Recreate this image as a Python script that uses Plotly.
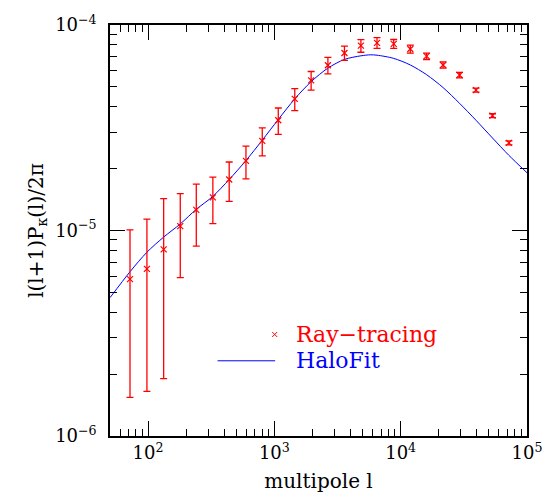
import math
import plotly.graph_objects as go

# Ray-tracing convergence power spectrum with 1-sigma errors
ell = [72, 98, 133, 180, 241, 326, 439, 596, 802, 1074, 1451, 1955,
       2654, 3589, 4844, 6495, 8810, 11920, 16040, 21670, 29230, 39450,
       53300, 71920]
power = [5.8e-6, 6.5e-6, 8.1e-6, 1.05e-5, 1.26e-5, 1.45e-5, 1.77e-5, 2.18e-5,
         2.73e-5, 3.44e-5, 4.37e-5, 5.38e-5, 6.37e-5, 7.31e-5, 7.93e-5, 8.19e-5,
         8.10e-5, 7.64e-5, 7.05e-5, 6.39e-5, 5.71e-5, 4.82e-5, 3.62e-5, 2.67e-5]
power_err = [4.26e-6, 4.85e-6, 6.2e-6, 4.6e-6, 4.2e-6, 3.7e-6, 3.85e-6, 3.95e-6,
             4.25e-6, 5.05e-6, 5.35e-6, 5.6e-6, 5.9e-6, 5.8e-6, 5.6e-6, 4.9e-6,
             4.0e-6, 3.35e-6, 2.55e-6, 2.2e-6, 1.75e-6, 1.1e-6, 0.8e-6, 0.6e-6]

# HaloFit prediction
halofit_ell = [50, 72, 98, 133, 180, 241, 326, 439, 596, 802, 1074, 1451, 1955,
               2654, 3589, 4844, 5750, 6495, 8810, 11920, 16040, 21670, 29230,
               39450, 53300, 71920, 100000]
halofit = [4.71e-6, 6.30e-6, 7.84e-6, 9.29e-6, 1.076e-5, 1.268e-5, 1.466e-5,
           1.77e-5, 2.19e-5, 2.75e-5, 3.47e-5, 4.37e-5, 5.3e-5, 6.17e-5, 6.8e-5,
           7.08e-5, 7.16e-5, 7.13e-5, 6.88e-5, 6.39e-5, 5.73e-5, 4.96e-5,
           4.16e-5, 3.44e-5, 2.82e-5, 2.32e-5, 1.91e-5]

# decade tick labels
x_ticks = [1e2, 1e3, 1e4, 1e5]
x_ticktext = ["10<sup>2</sup>", "10<sup>3</sup>", "10<sup>4</sup>", "10<sup>5</sup>"]
y_ticks = [1e-6, 1e-5, 1e-4]
y_ticktext = ["10<sup>\u22126</sup>", "10<sup>\u22125</sup>", "10<sup>\u22124</sup>"]

labels = ["Ray\u2212tracing", "HaloFit"]
RED = "#ff0000"
BLUE = "#0000ff"
FONT = "DejaVu Serif"

fig = go.Figure()
fig.add_trace(go.Scatter(
    x=halofit_ell, y=halofit, mode="lines",
    line=dict(color=BLUE, width=1, shape="spline", smoothing=0.8),
    name=labels[1], showlegend=False))
fig.add_trace(go.Scatter(
    x=ell, y=power, mode="markers", name=labels[0], showlegend=False,
    marker=dict(symbol="x-thin", size=6, line=dict(color=RED, width=1.2), color=RED),
    error_y=dict(type="data", array=power_err, color=RED, thickness=1.3, width=3.5)))

axis_common = dict(
    type="log", ticks="inside", ticklen=15, tickwidth=1, tickcolor="black",
    showline=True, linecolor="black", linewidth=1.5, mirror="ticks",
    showgrid=False, zeroline=False, ticklabeloverflow="allow",
    tickfont=dict(family=FONT, size=18, color="black"),
    minor=dict(ticks="inside", ticklen=7, tickwidth=1, tickcolor="black", showgrid=False,
               dtick="D1"),
)

fig.update_xaxes(**axis_common, range=[math.log10(50), 5],
                 tickmode="array", tickvals=x_ticks, ticktext=x_ticktext,
                 title=dict(text="multipole l", font=dict(family=FONT, size=20, color="black"), standoff=12))
fig.update_yaxes(**axis_common, range=[-6, -4], ticklabelstandoff=8,
                 tickmode="array", tickvals=y_ticks, ticktext=y_ticktext,
                 title=dict(text="l(l+1)P<sub>\u03ba</sub>(l)/2\u03c0",
                            font=dict(family=FONT, size=20, color="black"), standoff=6))

# legend keys drawn in plot-paper coordinates
sym_x, sym_y = 0.395, 0.247
fig.add_shape(type="line", xref="paper", yref="paper", xsizemode="pixel", ysizemode="pixel",
              xanchor=sym_x, yanchor=sym_y, x0=-2.5, x1=2.5, y0=-2.5, y1=2.5,
              line=dict(color=RED, width=1))
fig.add_shape(type="line", xref="paper", yref="paper", xsizemode="pixel", ysizemode="pixel",
              xanchor=sym_x, yanchor=sym_y, x0=-2.5, x1=2.5, y0=2.5, y1=-2.5,
              line=dict(color=RED, width=1))
fig.add_shape(type="line", xref="paper", yref="paper", x0=0.258, x1=0.396, y0=0.183, y1=0.183,
              line=dict(color=BLUE, width=1))
fig.add_annotation(xref="paper", yref="paper", x=0.4424, y=sym_y, text=labels[0],
                   showarrow=False, xanchor="left", yanchor="middle",
                   font=dict(family=FONT, size=22, color=RED))
fig.add_annotation(xref="paper", yref="paper", x=0.4424, y=0.183, text=labels[1],
                   showarrow=False, xanchor="left", yanchor="middle",
                   font=dict(family=FONT, size=22, color=BLUE))

fig.update_layout(
    width=554, height=501,
    margin=dict(l=110, r=22, t=14, b=65),
    paper_bgcolor="white", plot_bgcolor="white",
    font=dict(family=FONT, color="black"),
)

fig.write_html("out.html")
